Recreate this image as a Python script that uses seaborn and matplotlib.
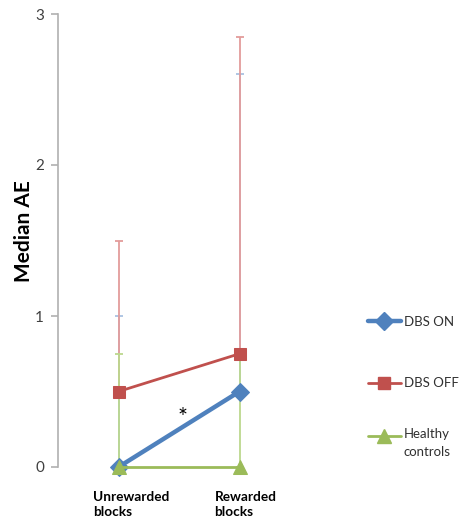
import matplotlib
matplotlib.use('Agg')
import matplotlib.pyplot as plt
import seaborn as sns
import pandas as pd
import numpy as np
from matplotlib.lines import Line2D
from matplotlib.transforms import ScaledTranslation

# ---- data ----
categories = ['Unrewarded\nblocks', 'Rewarded\nblocks']
series_names = ['DBS ON', 'DBS OFF', 'Healthy\ncontrols']
dbs_on = [0.0, 0.5]
dbs_off = [0.5, 0.75]
healthy = [0.0, 0.0]
dbs_on_upper = [1.0, 2.6]
dbs_off_upper = [1.5, 2.85]
healthy_upper = [0.75, 0.75]
yticks = [0, 1, 2, 3]
asterisk_pos = (0.53, 0.33)

colors = ['#4F81BD', '#C0504D', '#9BBB59']
err_colors = ['#A9C1E2', '#E39C9B', '#BCD88E']
markers = ['D', 's', '^']
msizes = [9.5, 8.5, 10]
lws = [3.2, 2.0, 2.0]

sns.set_theme(style='white')
plt.rcParams['font.family'] = ['Lato', 'DejaVu Sans']

fig = plt.figure(figsize=(4.65, 5.24), dpi=100)
W, H = 465, 524
x0, x1 = 58, 300
y0, y3 = 467, 14
ax = fig.add_axes([x0 / W, (H - y0) / H, (x1 - x0) / W, (y0 - y3) / H])

values = [dbs_on, dbs_off, healthy]
uppers = [dbs_on_upper, dbs_off_upper, healthy_upper]

# error bars (upper only)
for i in range(3):
    v = np.array(values[i])
    u = np.array(uppers[i])
    ax.errorbar(categories, v, yerr=[np.zeros_like(v), u - v], fmt='none',
                ecolor=err_colors[i], elinewidth=1.3, capsize=3, capthick=1.3,
                zorder=1 + i * 0.1, clip_on=False)

for i in range(3):
    df = pd.DataFrame({'block': categories, 'value': values[i]})
    sns.lineplot(data=df, x='block', y='value', ax=ax, color=colors[i],
                 linewidth=lws[i], marker=markers[i], markersize=msizes[i],
                 markeredgecolor=colors[i], sort=False, clip_on=False,
                 zorder=3 + i, legend=False)

ax.set_xlim(-0.5, 1.5)
ax.set_ylim(0, 3)
ax.set_yticks(yticks)
ax.set_yticklabels([str(t) for t in yticks])
ax.set_xlabel('')
ax.set_ylabel('Median AE', fontsize=15, fontweight='bold', color='black')
ax.yaxis.set_label_coords(-0.1, 0.52)

for s in ['top', 'right', 'bottom']:
    ax.spines[s].set_visible(False)
ax.spines['left'].set_color('#B0B0B0')
ax.spines['left'].set_linewidth(1.2)

ax.tick_params(axis='y', left=True, length=5, width=1.2, color='#B0B0B0',
               labelsize=11, labelcolor='#404040', pad=5)
ax.tick_params(axis='x', bottom=False, labelsize=9.8, labelcolor='black', pad=21)
offset = ScaledTranslation(-25 / 100, 0, fig.dpi_scale_trans)
for lab in ax.get_xticklabels():
    lab.set_fontweight('bold')
    lab.set_horizontalalignment('left')
    lab.set_verticalalignment('center')
    lab.set_multialignment('left')
    lab.set_linespacing(1.3)
    lab.set_transform(lab.get_transform() + offset)

ax.text(asterisk_pos[0], asterisk_pos[1], '*', fontsize=17, color='black',
        ha='center', va='center')

handles = [Line2D([], [], color=colors[i], lw=lws[i], marker=markers[i],
                  markersize=msizes[i], markeredgecolor=colors[i])
           for i in range(3)]
leg_kw = dict(loc='upper left', frameon=False, fontsize=9.5, handlelength=2.5,
              handletextpad=0.2, borderpad=0, borderaxespad=0)
leg1 = fig.legend(handles[:2], series_names[:2],
                  bbox_to_anchor=(368 / W, (H - 316) / H),
                  labelspacing=3.75, **leg_kw)
leg2 = fig.legend(handles[2:], series_names[2:],
                  bbox_to_anchor=(368 / W, (H - 421) / H),
                  labelspacing=1.0, **leg_kw)
for lg in (leg1, leg2):
    for t in lg.get_texts():
        t.set_color('#303030')
t3 = leg2.get_texts()[0]
t3.set_linespacing(1.55)
t3.set_transform(t3.get_transform() + ScaledTranslation(0, -7 / 100, fig.dpi_scale_trans))

fig.savefig('out.png', dpi=100)
